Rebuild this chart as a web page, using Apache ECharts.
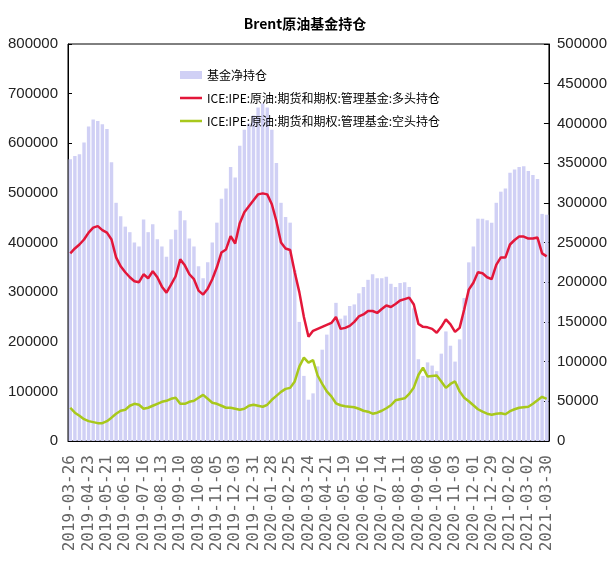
<!DOCTYPE html>
<html lang="zh">
<head>
<meta charset="utf-8">
<title>Brent原油基金持仓</title>
<script src="https://cdn.jsdelivr.net/npm/echarts@6/dist/echarts.min.js"></script>
<style>
  html, body { margin: 0; padding: 0; background: #fff; }
  #main { width: 610px; height: 577px; }
</style>
</head>
<body>
<div id="main"></div>
<script type="text/javascript">
// weekly report dates (MM-DD), one list per year
var days2019 = ['03-26','04-02','04-09','04-16','04-23','04-30','05-07','05-14','05-21','05-28',
  '06-04','06-11','06-18','06-25','07-02','07-09','07-16','07-23','07-30','08-06',
  '08-13','08-20','08-27','09-03','09-10','09-17','09-24','10-01','10-08','10-15',
  '10-22','10-29','11-05','11-12','11-19','11-26','12-03','12-10','12-17','12-24','12-31'];
var days2020 = ['01-07','01-14','01-21','01-28','02-04','02-11','02-18','02-25','03-03','03-10',
  '03-17','03-24','03-31','04-07','04-14','04-21','04-28','05-05','05-12','05-19',
  '05-26','06-02','06-09','06-16','06-23','06-30','07-07','07-14','07-21','07-28',
  '08-04','08-11','08-18','08-25','09-01','09-08','09-15','09-22','09-29','10-06',
  '10-13','10-20','10-27','11-03','11-10','11-17','11-24','12-01','12-08','12-15',
  '12-22','12-29'];
var days2021 = ['01-12','01-19','01-26','02-02','02-09','02-16','02-23','03-02','03-09','03-16',
  '03-23','03-30'];

// 基金净持仓 (right axis)
var netPos = [355000,359000,361000,376000,396000,405000,403000,399000,393000,351000,
  300000,283000,270000,263000,250000,245000,279000,263000,273000,254000,
  245000,232000,254000,266000,290000,278000,255000,245000,220000,205000,
  225000,250000,275000,305000,318000,345000,332000,372000,392000,400000,
  410000,420000,425000,420000,392000,350000,300000,282000,275000,215000,
  150000,82000,52000,60000,94000,115000,134000,148000,174000,154000,
  158000,170000,172000,186000,194000,203000,210000,205000,205000,207000,
  198000,194000,199000,200000,194000,167000,103000,82000,99000,95000,
  88000,110000,138000,120000,100000,128000,180000,225000,245000,280000,
  280000,278000,275000,300000,314000,318000,338000,342000,345000,346000,
  340000,335000,330000,286000,285000];

// 多头持仓 (left axis)
var longPos = [378000,388000,396000,406000,420000,430000,433000,425000,420000,406000,
  370000,352000,340000,330000,322000,320000,336000,328000,342000,330000,
  311000,299000,315000,332000,366000,354000,336000,326000,303000,295000,
  307000,326000,350000,380000,386000,413000,398000,439000,461000,473000,
  485000,497000,499000,497000,477000,443000,400000,388000,385000,340000,
  300000,250000,210000,222000,226000,230000,234000,238000,250000,226000,
  228000,232000,240000,251000,255000,262000,262000,258000,266000,273000,
  270000,276000,283000,286000,289000,275000,236000,230000,229000,226000,
  218000,230000,245000,235000,220000,228000,265000,305000,319000,340000,
  338000,330000,326000,355000,370000,370000,396000,405000,412000,412000,
  408000,408000,410000,378000,372000];

// 空头持仓 (left axis)
var shortPos = [67000,57000,51000,44000,40000,38000,36000,36000,40000,47000,
  55000,61000,63000,71000,75000,73000,65000,67000,71000,75000,
  79000,81000,85000,87000,75000,75000,79000,81000,87000,93000,
  85000,77000,75000,71000,67000,67000,65000,63000,65000,71000,
  73000,71000,69000,73000,83000,91000,99000,105000,107000,120000,
  150000,168000,158000,163000,132000,115000,100000,90000,76000,72000,
  70000,69000,68000,65000,61000,59000,55000,57000,61000,66000,
  72000,82000,84000,86000,95000,108000,133000,148000,130000,131000,
  132000,120000,107000,115000,120000,100000,87000,80000,72000,64000,
  59000,55000,53000,55000,56000,54000,60000,64000,67000,68000,
  69000,75000,82000,89000,85000];

var dates = []
  .concat(days2019.map(function (d) { return '2019-' + d; }))
  .concat(days2020.map(function (d) { return '2020-' + d; }))
  .concat(days2021.map(function (d) { return '2021-' + d; }));

var chart = echarts.init(document.getElementById('main'), null, { renderer: 'canvas' });

var numFont = "'Liberation Sans', sans-serif";
var cjkFont = "'Noto Sans CJK SC', sans-serif";
// thin line legend mark; the hairline strips at top and bottom only keep the box 8px tall
var lineIcon = 'path://M0,0H22V0.01H0Z M0,2.8H22V5.2H0Z M0,7.99H22V8H0Z';

function plain(v) { return String(v); }

var option = {
  animation: false,
  backgroundColor: '#fff',
  title: {
    text: 'Brent原油基金持仓',
    left: 'center',
    top: 12,
    textStyle: { fontFamily: cjkFont, fontSize: 14, fontWeight: 'bold', color: '#000' }
  },
  legend: {
    orient: 'vertical',
    left: 175,
    top: 64,
    itemWidth: 22,
    itemHeight: 8,
    itemGap: 11,
    textStyle: { fontFamily: cjkFont, fontSize: 12, color: '#000' },
    data: [
      { name: '基金净持仓', icon: 'rect' },
      { name: 'ICE:IPE:原油:期货和期权:管理基金:多头持仓', icon: lineIcon, symbolKeepAspect: false },
      { name: 'ICE:IPE:原油:期货和期权:管理基金:空头持仓', icon: lineIcon, symbolKeepAspect: false }
    ]
  },
  grid: {
    left: 68, right: 59, top: 44, bottom: 136,
    show: true, borderColor: '#000', borderWidth: 1
  },
  xAxis: {
    type: 'category',
    data: dates,
    boundaryGap: true,
    axisLine: { lineStyle: { color: '#000', width: 1 } },
    axisTick: { show: false },
    axisLabel: {
      interval: 3,
      rotate: 90,
      margin: 14,
      fontFamily: "'DejaVu Sans Mono', monospace",
      fontSize: 16,
      color: '#666'
    }
  },
  yAxis: [
    {
      type: 'value',
      min: 0, max: 800000, interval: 100000,
      splitLine: { show: false },
      axisLine: { show: true, lineStyle: { color: '#000' } },
      axisTick: { show: true, inside: true, length: 4, lineStyle: { color: '#000' } },
      axisLabel: { formatter: plain, fontFamily: numFont, fontSize: 15, color: '#222', margin: 10 }
    },
    {
      type: 'value',
      min: 0, max: 500000, interval: 50000,
      splitLine: { show: false },
      axisLine: { show: true, lineStyle: { color: '#000' } },
      axisTick: { show: true, inside: true, length: 5, lineStyle: { color: '#000' } },
      axisLabel: { formatter: plain, fontFamily: numFont, fontSize: 15, color: '#222', margin: 8 }
    }
  ],
  series: [
    {
      name: '基金净持仓',
      type: 'bar',
      yAxisIndex: 1,
      barCategoryGap: '25%',
      itemStyle: { color: '#d0d0f5' },
      data: netPos
    },
    {
      name: 'ICE:IPE:原油:期货和期权:管理基金:多头持仓',
      type: 'line',
      yAxisIndex: 0,
      symbol: 'none',
      lineStyle: { color: '#e3173a', width: 2.5 },
      itemStyle: { color: '#e3173a' },
      data: longPos
    },
    {
      name: 'ICE:IPE:原油:期货和期权:管理基金:空头持仓',
      type: 'line',
      yAxisIndex: 0,
      symbol: 'none',
      lineStyle: { color: '#a8c81c', width: 2.5 },
      itemStyle: { color: '#a8c81c' },
      data: shortPos
    }
  ]
};

chart.setOption(option);
</script>
</body>
</html>
